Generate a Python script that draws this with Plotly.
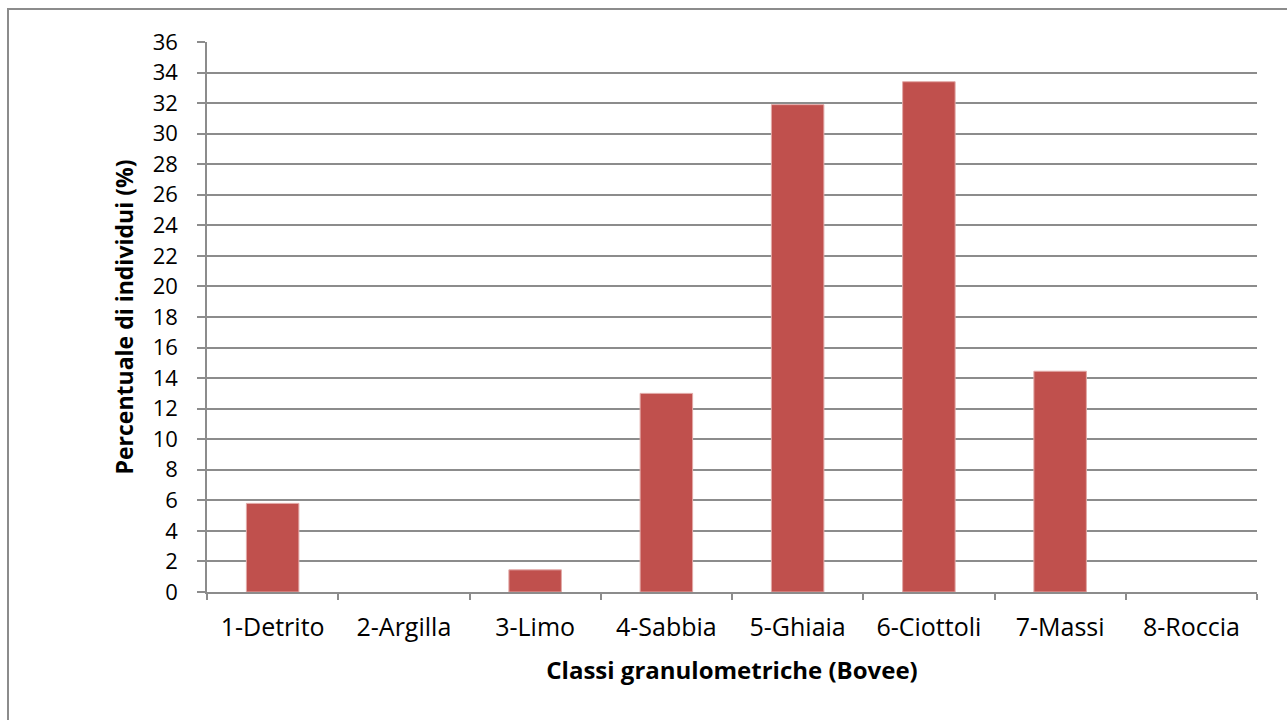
import plotly.graph_objects as go

# Distribution of individuals by grain-size class (Bovee)
categories = ["1-Detrito", "2-Argilla", "3-Limo", "4-Sabbia",
              "5-Ghiaia", "6-Ciottoli", "7-Massi", "8-Roccia"]
percentages = [5.8, 0.0, 1.45, 13.0, 31.9, 33.4, 14.45, 0.0]
y_ticks = list(range(0, 37, 2))

W, H = 1287, 720
ML, MR, MT, MB = 207, 30, 42, 128
FONT = "Open Sans"
GRID = "#8c8c8c"

# thin light edge on bars, none on empty classes
edge_widths = [1 if v > 0 else 0 for v in percentages]

fig = go.Figure(
    go.Bar(
        x=categories,
        y=percentages,
        marker=dict(color="#C0504D", line=dict(color="#E2A9A7", width=edge_widths)),
        hoverinfo="x+y",
    )
)

# outer chart frame (runs past the right and bottom edges of the page)
pw, ph = W - ML - MR, H - MT - MB
def px_x(p):
    return (p - ML) / pw
def px_y(p):
    return (H - MB - p) / ph

fig.add_shape(
    type="rect", xref="paper", yref="paper",
    x0=px_x(8), x1=px_x(1300), y0=px_y(9), y1=px_y(730),
    line=dict(color="#8c8c8c", width=2), fillcolor="rgba(0,0,0,0)",
    layer="below",
)

fig.update_layout(
    width=W, height=H,
    margin=dict(l=ML, r=MR, t=MT, b=MB),
    paper_bgcolor="white", plot_bgcolor="white",
    bargap=0.6,
    showlegend=False,
    font=dict(family=FONT, size=24, color="#000000"),
    xaxis=dict(
        type="category",
        tickson="boundaries",
        ticks="outside", ticklen=6, tickwidth=1.5, tickcolor=GRID,
        showline=True, linecolor=GRID, linewidth=1.5,
        showgrid=False,
        ticklabelstandoff=12,
        tickfont=dict(family=FONT, size=25),
        title=dict(text="<b>Classi granulometriche (Bovee)</b>",
                   font=dict(family=FONT, size=24), standoff=20),
    ),
    yaxis=dict(
        range=[0, 36],
        tickmode="array", tickvals=y_ticks, ticktext=[str(v) for v in y_ticks],
        ticks="outside", ticklen=8, tickwidth=1.5, tickcolor=GRID,
        showline=True, linecolor=GRID, linewidth=1.5,
        showgrid=True, gridcolor=GRID, gridwidth=1.5,
        zeroline=False,
        ticklabelstandoff=15,
        tickfont=dict(family=FONT, size=22),
        title=dict(text="<b>Percentuale di individui (%)</b>",
                   font=dict(family=FONT, size=23), standoff=13),
    ),
)

fig.write_html("out.html")
